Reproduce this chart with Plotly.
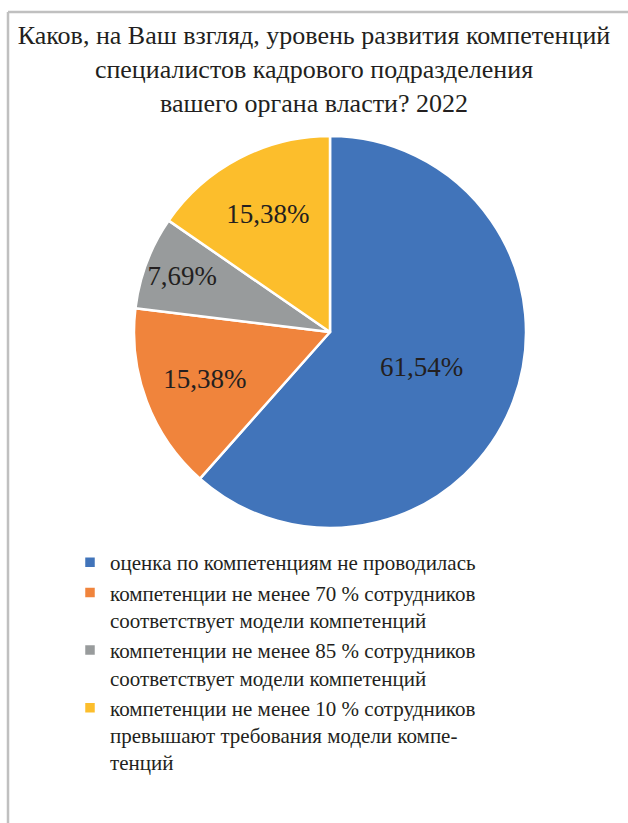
import plotly.graph_objects as go

W, H = 628, 823

title_lines = [
    "Каков, на Ваш взгляд, уровень развития компетенций",
    "специалистов кадрового подразделения",
    "вашего органа власти? 2022",
]
categories = [
    "оценка по компетенциям не проводилась",
    "компетенции не менее 70 % сотрудников<br>соответствует модели компетенций",
    "компетенции не менее 85 % сотрудников<br>соответствует модели компетенций",
    "компетенции не менее 10 % сотрудников<br>превышают требования модели компе-<br>тенций",
]
shares = [61.54, 15.38, 7.69, 15.38]
colors = ["#4174BA", "#F0843C", "#989B9C", "#FCBE2C"]

SERIF = "serif"
INK = "#231F20"

fig = go.Figure(
    go.Pie(
        labels=categories,
        values=shares,
        sort=False,
        direction="clockwise",
        rotation=0,
        marker=dict(colors=colors, line=dict(color="white", width=2.5)),
        texttemplate="%{value:.2f}%",
        textposition="inside",
        insidetextorientation="horizontal",
        textfont=dict(family=SERIF, size=27, color=INK),
        hoverinfo="label+value",
        domain=dict(x=[134 / W, 526 / W], y=[1 - 528 / H, 1 - 136 / H]),
    )
)

# frame: left and top rules
fig.add_shape(type="line", xref="paper", yref="paper",
              x0=8 / W, x1=8 / W, y0=0, y1=1 - 12 / H,
              line=dict(color="#C0C0C0", width=2.5))
fig.add_shape(type="line", xref="paper", yref="paper",
              x0=8 / W, x1=1, y0=1 - 12 / H, y1=1 - 12 / H,
              line=dict(color="#C0C0C0", width=2.5))

fig.update_layout(
    width=W,
    height=H,
    margin=dict(l=0, r=0, t=0, b=0),
    paper_bgcolor="white",
    plot_bgcolor="white",
    separators=", ",
    title=dict(
        text="<br>".join(title_lines),
        x=0.5, xanchor="center",
        y=1 - 44 / H, yanchor="top",
        font=dict(family=SERIF, size=26, color=INK),
    ),
    showlegend=True,
    legend=dict(
        x=70 / W, xanchor="left",
        y=1 - 542 / H, yanchor="top",
        font=dict(family=SERIF, size=21, color=INK),
        itemwidth=30,
        valign="top",
        traceorder="normal",
        bgcolor="rgba(0,0,0,0)",
    ),
)

fig.write_html("out.html")
